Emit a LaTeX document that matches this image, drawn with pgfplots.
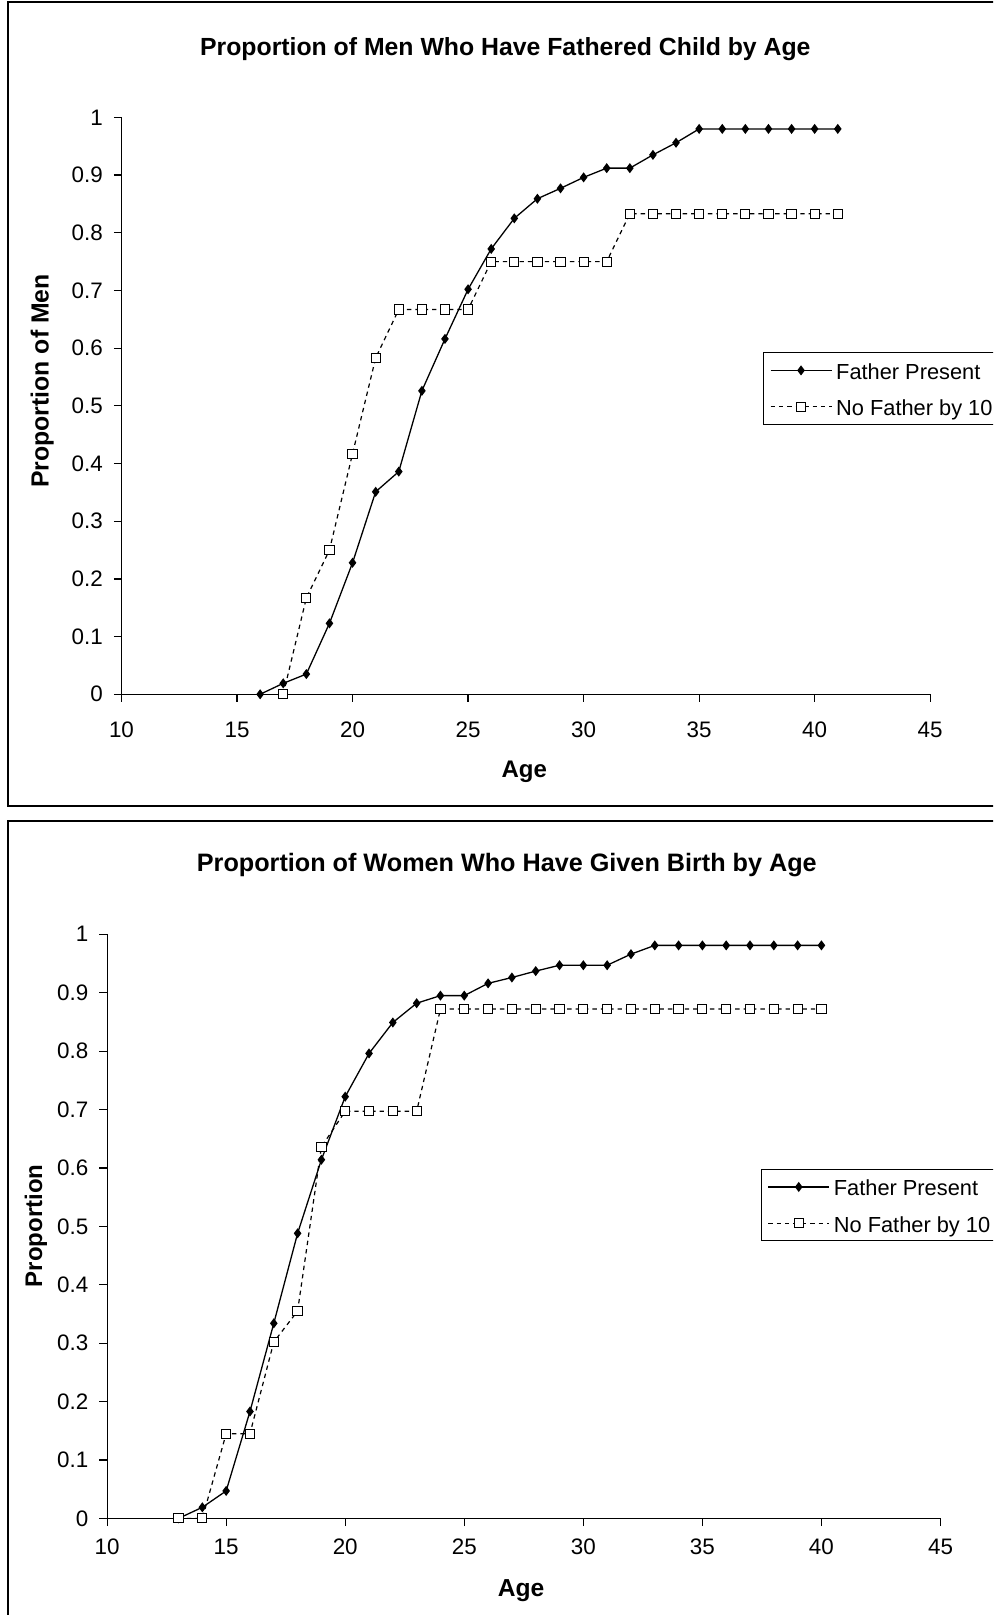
\documentclass[border=0pt]{standalone}
\usepackage{fontspec}
\setmainfont{Liberation Sans}
\usepackage{pgfplots}
\pgfplotsset{compat=1.18}
\pgfplotsset{
  myaxis/.style={
    scale only axis,
    axis lines=left,
    axis line style={-, line width=0.6pt},
    tick align=outside,
    major tick length=3.85pt,
    tick style={line width=0.6pt, black},
    xmin=10, xmax=45, ymin=0, ymax=1,
    xtick={10,15,20,25,30,35,40,45},
    ytick={0,0.1,0.2,0.3,0.4,0.5,0.6,0.7,0.8,0.9,1},
    minor tick num=0,
    ticklabel style={font=\fontsize{11.2}{13}\selectfont},
    yticklabel style={xshift=-2pt},
    /pgf/number format/assume math mode=true,
    clip=false,
    legend cell align=left,
    legend style={draw=black, line width=0.6pt, font=\fontsize{10.9}{11}\selectfont,
      inner xsep=3pt, inner ysep=1.1pt, row sep=2.9pt,
      nodes={text height=11pt, text depth=2.3pt, inner ysep=1pt}},
    legend image code/.code={\draw[mark repeat=2,mark phase=2,##1] plot coordinates {(0pt,0pt) (15.25pt,0pt) (30.5pt,0pt)};},
  },
  fp/.style={black, line width=0.65pt, mark=diamond*, mark size=2pt, mark options={solid, fill=black}},
  nf/.style={black, line width=0.6pt, dash pattern=on 2.2pt off 2pt, mark=square*, mark size=2.3pt, mark options={solid, fill=white, line width=0.5pt}},
}
\begin{document}
\begin{tikzpicture}[x=0.5pt,y=0.5pt]
\useasboundingbox (0,0) rectangle (993,1615);
\clip (0,0) rectangle (993,1615);
% panel frames
\draw[line width=1pt] (7.6,1612.5) rectangle (1100,809);
\draw[line width=1pt] (7.6,793.5) rectangle (1100,-50);
% titles and labels
\node[font=\bfseries\fontsize{12.4}{14}\selectfont] at (505.3,1565.6) {Proportion of Men Who Have Fathered Child by Age};
\node[font=\bfseries\fontsize{12}{14}\selectfont] at (524.3,843.5) {Age};
\node[font=\bfseries\fontsize{12.4}{14}\selectfont, rotate=90] at (42.2,1234) {Proportion of Men};
\node[font=\bfseries\fontsize{12.6}{14}\selectfont] at (506.8,750) {Proportion of Women Who Have Given Birth by Age};
\node[font=\bfseries\fontsize{12.3}{14}\selectfont] at (521,24.5) {Age};
\node[font=\bfseries\fontsize{12}{14}\selectfont, rotate=90] at (36,389) {Proportion};

\begin{axis}[myaxis, at={(60.75pt,460.35pt)}, anchor=south west, width=404.35pt, height=288.45pt,
  xticklabel style={yshift=-6.3pt},
  legend style={at={(0.7936,0.5928)}, anchor=north west}]
\addplot[fp] coordinates {(16,0) (17,0.019) (18,0.035) (19,0.123) (20,0.228) (21,0.351) (22,0.386) (23,0.526) (24,0.616) (25,0.702) (26,0.772) (27,0.825) (28,0.859) (29,0.877) (30,0.896) (31,0.912) (32,0.912) (33,0.935) (34,0.956) (35,0.98) (36,0.98) (37,0.98) (38,0.98) (39,0.98) (40,0.98) (41,0.98)};
\addplot[nf] coordinates {(17,0) (18,0.167) (19,0.25) (20,0.417) (21,0.583) (22,0.667) (23,0.667) (24,0.667) (25,0.667) (26,0.75) (27,0.75) (28,0.75) (29,0.75) (30,0.75) (31,0.75) (32,0.833) (33,0.833) (34,0.833) (35,0.833) (36,0.833) (37,0.833) (38,0.833) (39,0.833) (40,0.833) (41,0.833)};
\legend{Father Present, No Father by 10}
\end{axis}

\begin{axis}[myaxis, at={(53.55pt,48.3pt)}, anchor=south west, width=416.7pt, height=292.05pt,
  xticklabel style={yshift=-2.9pt},
  legend style={at={(0.7846,0.5984)}, anchor=north west}]
\addplot[fp] coordinates {(13,0) (14,0.019) (15,0.047) (16,0.183) (17,0.334) (18,0.488) (19,0.614) (20,0.722) (21,0.796) (22,0.849) (23,0.882) (24,0.895) (25,0.895) (26,0.916) (27,0.926) (28,0.937) (29,0.947) (30,0.947) (31,0.947) (32,0.966) (33,0.981) (34,0.981) (35,0.981) (36,0.981) (37,0.981) (38,0.981) (39,0.981) (40,0.981)};
\addplot[nf] coordinates {(13,0) (14,0) (15,0.145) (16,0.145) (17,0.302) (18,0.355) (19,0.636) (20,0.697) (21,0.697) (22,0.697) (23,0.697) (24,0.872) (25,0.872) (26,0.872) (27,0.872) (28,0.872) (29,0.872) (30,0.872) (31,0.872) (32,0.872) (33,0.872) (34,0.872) (35,0.872) (36,0.872) (37,0.872) (38,0.872) (39,0.872) (40,0.872)};
\legend{Father Present, No Father by 10}
\end{axis}
\end{tikzpicture}
\end{document}
